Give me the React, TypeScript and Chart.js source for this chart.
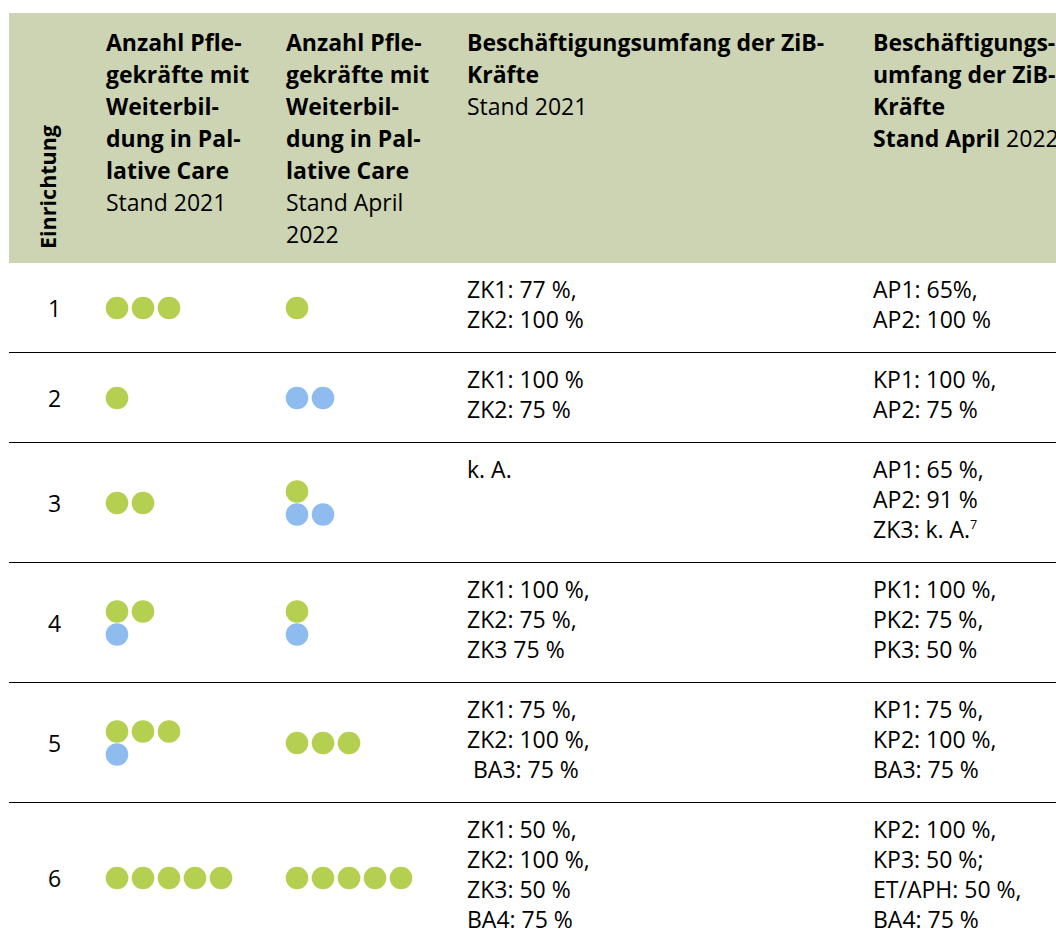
import React, { useEffect, useRef } from 'react';
import { Chart, registerables } from 'chart.js';

Chart.register(...registerables);

// ---------- data ----------
const ROW_IDS = ['1', '2', '3', '4', '5', '6'];
// each string is one line of dots: g = green, b = blue
const DOTS_2021 = [['ggg'], ['g'], ['gg'], ['gg', 'b'], ['ggg', 'b'], ['ggggg']];
const DOTS_2022 = [['g'], ['bb'], ['g', 'bb'], ['g', 'b'], ['ggg'], ['ggggg']];
const ZIB_2021 = [
  ['ZK1: 77 %,', 'ZK2: 100 %'],
  ['ZK1: 100 %', 'ZK2: 75 %'],
  ['k. A.'],
  ['ZK1: 100 %,', 'ZK2: 75 %,', 'ZK3 75 %'],
  ['ZK1: 75 %,', 'ZK2: 100 %,', ' BA3: 75 %'],
  ['ZK1: 50 %,', 'ZK2: 100 %,', 'ZK3: 50 %', 'BA4: 75 %'],
];
const ZIB_2022 = [
  ['AP1: 65%,', 'AP2: 100 %'],
  ['KP1: 100 %,', 'AP2: 75 %'],
  ['AP1: 65 %,', 'AP2: 91 %', 'ZK3: k. A.^7'],
  ['PK1: 100 %,', 'PK2: 75 %,', 'PK3: 50 %'],
  ['KP1: 75 %,', 'KP2: 100 %,', 'BA3: 75 %'],
  ['KP2: 100 %,', 'KP3: 50 %;', 'ET/APH: 50 %,', 'BA4: 75 %'],
];
const HEAD_ROTATED = 'Einrichtung';
const HEAD_COUNT_2021 = ['**Anzahl Pfle-**', '**gekräfte mit**', '**Weiterbil-**', '**dung in Pal-**', '**lative Care**', 'Stand 2021'];
const HEAD_COUNT_2022 = ['**Anzahl Pfle-**', '**gekräfte mit**', '**Weiterbil-**', '**dung in Pal-**', '**lative Care**', 'Stand April', '2022'];
const HEAD_ZIB_2021 = ['**Beschäftigungsumfang der ZiB-**', '**Kräfte**', 'Stand 2021'];
const HEAD_ZIB_2022 = ['**Beschäftigungs-**', '**umfang der ZiB-**', '**Kräfte**', '**Stand April** 2022'];

// ---------- styles / layout ----------
const PAGE_W = 1056;
const PAGE_H = 950;
const GREEN = '#b5cf50';
const BLUE = '#8fbcef';
const HEADER_BG = '#cdd4b4';
const FONT = '"Open Sans", "Noto Sans", sans-serif';
const FONT_SIZE = 23;
const COLS = [9, 96, 276, 457, 863, 1100];
const HEAD_TOP = 13;
const HEAD_H = 250;
const HEAD_LINE_H = 32;
const HEAD_PAD_TOP = 13;
const PAD_X = 10;
const LINE_H = 30;
const ROW_PAD = 15;
const TEXT_TOP = 11;
const DOT_R = 11.3;
const DOT_STEP = 26;
const DOT_ROW_STEP = 23;

const rowHeights = ROW_IDS.map((_, i) => Math.max(ZIB_2021[i].length, ZIB_2022[i].length) * LINE_H + 2 * ROW_PAD);
const rowTops: number[] = [];
{
  let y = HEAD_TOP + HEAD_H;
  rowHeights.forEach((h) => {
    rowTops.push(y);
    y += h;
  });
}

function dotPoints(groups: string[][], col: number, color: string) {
  const pts: { x: number; y: number }[] = [];
  groups.forEach((lines, i) => {
    const cy = rowTops[i] + rowHeights[i] / 2;
    lines.forEach((line, j) => {
      const y = cy + (j - (lines.length - 1) / 2) * DOT_ROW_STEP;
      line.split('').forEach((c, k) => {
        if (c === color) pts.push({ x: COLS[col] + PAD_X + 11 + k * DOT_STEP, y });
      });
    });
  });
  return pts;
}

function renderHeadLine(line: string, key: number) {
  const parts = line.split('**');
  return (
    <div key={key} style={{ whiteSpace: 'pre' }}>
      {parts.map((p, i) => (i % 2 === 1 ? <b key={i}>{p}</b> : <span key={i}>{p}</span>))}
    </div>
  );
}

function renderBodyLine(line: string, key: number) {
  const [main, sup] = line.split('^');
  return (
    <div key={key} style={{ whiteSpace: 'pre' }}>
      {main}
      {sup ? <sup style={{ fontSize: '0.55em', verticalAlign: '0.7em', lineHeight: 0 }}>{sup}</sup> : null}
    </div>
  );
}

export default function App() {
  const canvasRef = useRef<HTMLCanvasElement | null>(null);

  useEffect(() => {
    const canvas = canvasRef.current;
    if (!canvas) return;
    const mk = (color: string, fill: string) => ({
      data: [...dotPoints(DOTS_2021, 1, color), ...dotPoints(DOTS_2022, 2, color)],
      backgroundColor: fill,
      borderWidth: 0,
      pointRadius: DOT_R,
      pointHoverRadius: DOT_R,
      pointBorderWidth: 0,
    });
    const chart = new Chart(canvas, {
      type: 'scatter',
      data: { datasets: [mk('g', GREEN), mk('b', BLUE)] },
      options: {
        animation: false,
        responsive: false,
        events: [],
        layout: { padding: 0, autoPadding: false },
        plugins: { legend: { display: false }, tooltip: { enabled: false } },
        scales: {
          x: { type: 'linear', min: 0, max: PAGE_W, display: false },
          y: { type: 'linear', min: 0, max: PAGE_H, reverse: true, display: false },
        },
      },
    });
    return () => chart.destroy();
  }, []);

  const heads = [HEAD_COUNT_2021, HEAD_COUNT_2022, HEAD_ZIB_2021, HEAD_ZIB_2022];

  return (
    <div
      style={{
        position: 'absolute',
        left: 0,
        top: 0,
        width: PAGE_W,
        height: PAGE_H,
        overflow: 'hidden',
        background: '#fff',
        fontFamily: FONT,
        fontSize: FONT_SIZE,
        color: '#000',
      }}
    >
      {/* header background */}
      <div style={{ position: 'absolute', left: COLS[0], top: HEAD_TOP, width: PAGE_W - COLS[0], height: HEAD_H, background: HEADER_BG }} />
      {/* rotated header */}
      <div
        style={{
          position: 'absolute',
          left: 47.5 - 15,
          top: HEAD_TOP,
          height: HEAD_H - 14,
          width: 30,
          display: 'flex',
          justifyContent: 'center',
          alignItems: 'flex-end',
        }}
      >
        <div style={{ writingMode: 'vertical-rl', transform: 'rotate(180deg)', fontWeight: 'bold', fontSize: 21.5, lineHeight: '30px', whiteSpace: 'nowrap' }}>
          {HEAD_ROTATED}
        </div>
      </div>
      {heads.map((lines, c) => (
        <div
          key={c}
          style={{ position: 'absolute', left: COLS[c + 1] + PAD_X, top: HEAD_TOP + HEAD_PAD_TOP, lineHeight: HEAD_LINE_H + 'px' }}
        >
          {lines.map(renderHeadLine)}
        </div>
      ))}
      {/* body rows */}
      {ROW_IDS.map((id, i) => (
        <React.Fragment key={id}>
          <div
            style={{
              position: 'absolute',
              left: COLS[0],
              width: COLS[1] - COLS[0],
              top: rowTops[i],
              height: rowHeights[i],
              display: 'flex',
              alignItems: 'center',
              justifyContent: 'center',
              paddingLeft: 2,
            }}
          >
            {id}
          </div>
          <div style={{ position: 'absolute', left: COLS[3] + PAD_X, top: rowTops[i] + TEXT_TOP, lineHeight: LINE_H + 'px' }}>
            {ZIB_2021[i].map(renderBodyLine)}
          </div>
          <div style={{ position: 'absolute', left: COLS[4] + PAD_X, top: rowTops[i] + TEXT_TOP, lineHeight: LINE_H + 'px' }}>
            {ZIB_2022[i].map(renderBodyLine)}
          </div>
          <div
            style={{
              position: 'absolute',
              left: COLS[0],
              width: PAGE_W - COLS[0],
              top: rowTops[i] + rowHeights[i] - 1,
              height: 0,
              borderTop: '1.5px solid #000',
            }}
          />
        </React.Fragment>
      ))}
      <canvas ref={canvasRef} width={PAGE_W} height={PAGE_H} style={{ position: 'absolute', left: 0, top: 0, pointerEvents: 'none' }} />
    </div>
  );
}
